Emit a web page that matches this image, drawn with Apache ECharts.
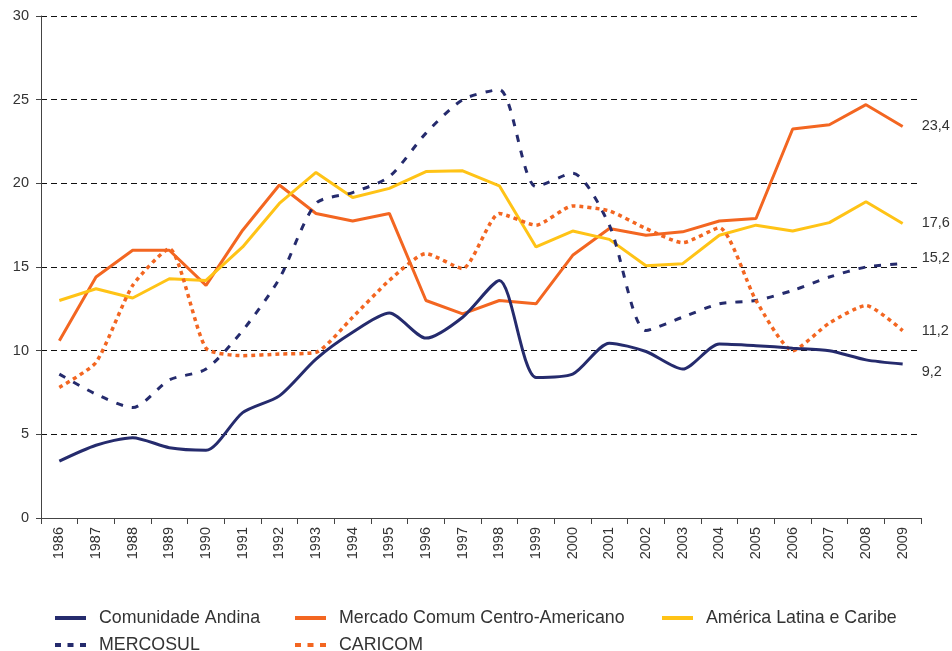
<!DOCTYPE html>
<html>
<head>
<meta charset="utf-8">
<script src="https://cdn.jsdelivr.net/npm/echarts@6/dist/echarts.min.js"></script>
<style>
  html, body { margin: 0; padding: 0; background: #fff; }
  #chart { width: 952px; height: 651px; }
</style>
</head>
<body>
<div id="chart"></div>
<script>
// dados
var anos = ['1986', '1987', '1988', '1989', '1990', '1991', '1992', '1993', '1994', '1995', '1996', '1997',
            '1998', '1999', '2000', '2001', '2002', '2003', '2004', '2005', '2006', '2007', '2008', '2009'];
var comunidadeAndina = [3.4, 4.35, 4.8, 4.2, 4.05, 6.3, 7.3, 9.5, 11.1, 12.25, 10.75, 12.0,
                        14.2, 8.4, 8.6, 10.45, 9.95, 8.9, 10.4, 10.3, 10.15, 10.0, 9.45, 9.2];
var mercadoComum = [10.6, 14.4, 16.0, 16.0, 13.9, 17.2, 19.9, 18.2, 17.75, 18.2, 13.0, 12.2,
                    13.0, 12.8, 15.7, 17.3, 16.9, 17.1, 17.75, 17.9, 23.25, 23.5, 24.7, 23.4];
var americaLatina = [13.0, 13.7, 13.15, 14.3, 14.2, 16.2, 18.8, 20.65, 19.15, 19.7, 20.7, 20.75,
                     19.85, 16.2, 17.15, 16.65, 15.07, 15.2, 16.9, 17.5, 17.15, 17.65, 18.9, 17.6];
var mercosul = [8.6, 7.4, 6.6, 8.25, 8.9, 11.2, 14.3, 18.8, 19.45, 20.4, 23.0, 25.0,
                25.6, 19.8, 20.6, 17.5, 11.2, 12.0, 12.8, 13.0, 13.6, 14.4, 15.0, 15.2];
var caricom = [7.8, 9.3, 13.9, 16.1, 10.15, 9.7, 9.8, 9.9, 12.0, 14.2, 15.8, 14.9,
               18.2, 17.5, 18.65, 18.35, 17.3, 16.45, 17.35, 13.0, 10.0, 11.65, 12.7, 11.2];
var yTicks = [0, 5, 10, 15, 20, 25, 30];

(function () {
    var azul = '#252B6D', laranja = '#F36621', amarelo = '#FFC316';
    var fonte = "'Liberation Sans', Arial, sans-serif";
    var myChart = echarts.init(document.getElementById('chart'));

    function rotulo(offsetY) {
        return {
            show: true,
            distance: 19,
            offset: [0, offsetY],
            fontFamily: fonte,
            fontSize: 14.5,
            color: '#333',
            formatter: function (p) { return p.value.toFixed(1).replace('.', ','); }
        };
    }

    // uma legenda por item, para posicionar como no original
    function legenda(nome, left, top, lineStyle) {
        return {
            show: true,
            orient: 'horizontal',
            padding: 0,
            data: [nome],
            left: left,
            top: top,
            itemWidth: 31,
            itemHeight: 12,
            itemStyle: { opacity: 0 },
            textStyle: { fontFamily: fonte, fontSize: 17.8, color: '#333', padding: [0, 0, 0, 8] },
            lineStyle: lineStyle
        };
    }

    var option = {
        animation: false,
        textStyle: { fontFamily: fonte },
        grid: { left: 41, right: 31, top: 16, bottom: 133, containLabel: false },
        legend: [
            legenda('Comunidade Andina', 53, 609, { width: 4 }),
            legenda('Mercado Comum Centro-Americano', 293, 609, { width: 4 }),
            legenda('América Latina e Caribe', 660, 609, { width: 4 }),
            legenda('MERCOSUL', 53, 636, { width: 4, type: [6, 6.5] }),
            legenda('CARICOM', 293, 636, { width: 4, type: [6, 6.5] })
        ],
        xAxis: {
            type: 'category',
            data: anos,
            boundaryGap: true,
            axisLine: { lineStyle: { color: '#444', width: 1 } },
            axisTick: { show: true, length: 6, lineStyle: { color: '#444' } },
            axisLabel: { rotate: 90, margin: 9, fontSize: 14.5, color: '#333', fontFamily: fonte, interval: 0 }
        },
        yAxis: {
            type: 'value',
            min: yTicks[0],
            max: yTicks[yTicks.length - 1],
            interval: 5,
            axisLine: { show: true, lineStyle: { color: '#444', width: 1 } },
            axisTick: { show: true, length: 5, lineStyle: { color: '#444' } },
            axisLabel: { margin: 12, fontSize: 14.5, color: '#333', fontFamily: fonte },
            splitLine: { lineStyle: { color: '#111', type: [6, 4], width: 1 } }
        },
        series: [
            {
                name: 'Comunidade Andina', type: 'line', data: comunidadeAndina,
                symbol: 'none', smooth: 0.25, z: 5,
                lineStyle: { color: azul, width: 3 }, itemStyle: { color: azul },
                endLabel: rotulo(8)
            },
            {
                name: 'Mercado Comum Centro-Americano', type: 'line', data: mercadoComum,
                symbol: 'none', smooth: false,
                lineStyle: { color: laranja, width: 3 }, itemStyle: { color: laranja },
                endLabel: rotulo(0)
            },
            {
                name: 'América Latina e Caribe', type: 'line', data: americaLatina,
                symbol: 'none', smooth: false,
                lineStyle: { color: amarelo, width: 3 }, itemStyle: { color: amarelo },
                endLabel: rotulo(0)
            },
            {
                name: 'MERCOSUL', type: 'line', data: mercosul,
                symbol: 'none', smooth: 0.25,
                lineStyle: { color: azul, width: 3, type: [7, 9] }, itemStyle: { color: azul },
                endLabel: rotulo(-6)
            },
            {
                name: 'CARICOM', type: 'line', data: caricom,
                symbol: 'none', smooth: 0.2,
                lineStyle: { color: laranja, width: 3.5, type: [4, 4] }, itemStyle: { color: laranja },
                endLabel: rotulo(0)
            }
        ]
    };
    myChart.setOption(option);

    window.addEventListener('resize', function () {
        myChart.resize();
    });
})();
</script>
</body>
</html>
